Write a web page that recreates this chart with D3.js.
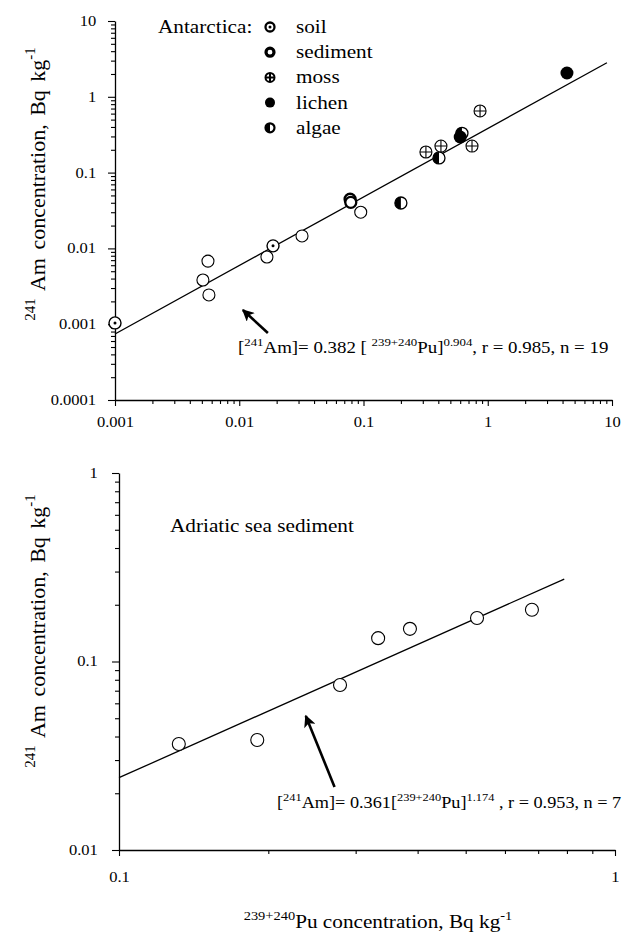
<!DOCTYPE html>
<html>
<head>
<meta charset="utf-8">
<script src="https://cdn.jsdelivr.net/npm/d3@7"></script>
<style>
  body { margin: 0; background: #fff; }
  svg { font-family: "Liberation Serif", "DejaVu Serif", serif; }
</style>
</head>
<body>
<svg id="chart" width="628" height="935"></svg>
<script>
// Antarctica samples: [Pu, Am] in Bq/kg
const soil = [[0.001, 0.00104], [0.0187, 0.0108]];
const openPts = [[0.0051, 0.00383], [0.0056, 0.0068], [0.0057, 0.00243], [0.0167, 0.0077], [0.032, 0.0146], [0.095, 0.030]];
const sediment = [[0.078, 0.0445], [0.079, 0.0405]];
const moss = [[0.318, 0.187], [0.42, 0.224], [0.747, 0.224], [0.867, 0.65]];
const lichen = [[0.60, 0.295], [4.34, 2.06]];
const algae = [[0.2, 0.0397], [0.405, 0.156], [0.62, 0.33]];

// Adriatic sea sediment
const adriatic = [[0.132, 0.0365], [0.19, 0.0383], [0.279, 0.075], [0.333, 0.133], [0.386, 0.149], [0.527, 0.170], [0.68, 0.188]];

// fits: [a, b, xmin, xmax] for Am = a * Pu^b
const fitTop = [0.382, 0.904, 0.001, 9.1];
const fitBottom = [0.361, 1.174, 0.1, 0.79];

const topXTicks = [0.001, 0.01, 0.1, 1, 10];
const topYTicks = [0.0001, 0.001, 0.01, 0.1, 1, 10];
const botXTicks = [0.1, 1];
const botYTicks = [0.01, 0.1, 1];

const legendItems = ["soil", "sediment", "moss", "lichen", "algae"];

// the scan is a bit wider than tall, text gets the same stretch
const SX = 1.18;

const svg = d3.select("#chart");

const defs = svg.append("defs");
defs.append("marker")
  .attr("id", "arrow")
  .attr("viewBox", "0 0 10 10")
  .attr("refX", 9).attr("refY", 5)
  .attr("markerWidth", 14).attr("markerHeight", 12)
  .attr("markerUnits", "userSpaceOnUse")
  .attr("orient", "auto")
  .append("path").attr("d", "M0,0 L10,5 L0,10 L2.5,5 Z").attr("fill", "#000");

function minors(lo, hi) {
  const out = [];
  for (let e = Math.round(Math.log10(lo)); e < Math.round(Math.log10(hi)); e++) {
    for (let k = 2; k <= 9; k++) out.push(k * Math.pow(10, e));
  }
  return out;
}

const fmt = (d) => String(+d.toPrecision(1));

function stxt(parent, x, y, size, sx = SX) {
  return parent.append("g")
    .attr("transform", `translate(${x},${y}) scale(${sx},1)`)
    .append("text").attr("font-size", size).attr("fill", "#000");
}

function drawAxes(g, x, y, xt, yt, xpad, ypad) {
  const xa = g.append("g").attr("transform", `translate(0,${y.range()[0]})`);
  xa.call(d3.axisBottom(x).tickValues(xt).tickSize(6).tickPadding(xpad).tickFormat(fmt).tickSizeOuter(0));
  xa.append("g").call(d3.axisBottom(x).tickValues(minors(...x.domain())).tickSize(4).tickFormat("")).select(".domain").remove();
  const ya = g.append("g").attr("transform", `translate(${x.range()[0]},0)`);
  ya.call(d3.axisLeft(y).tickValues(yt).tickSize(7).tickPadding(ypad).tickFormat(fmt).tickSizeOuter(0));
  ya.append("g").call(d3.axisLeft(y).tickValues(minors(...y.domain())).tickSize(4).tickFormat("")).select(".domain").remove();
  g.selectAll(".domain").attr("stroke-width", 1.3);
  g.selectAll(".tick line").attr("stroke-width", 1.1);
  g.selectAll(".tick text")
    .attr("font-family", "Liberation Serif").attr("font-size", 14).attr("fill", "#000")
    .attr("transform", `scale(${SX},1)`);
}

function fitLine(g, x, y, f) {
  const [a, b, x0, x1] = f;
  const pts = [x0, x1].map((v) => [x(v), y(a * Math.pow(v, b))]);
  g.append("path").attr("d", d3.line()(pts)).attr("fill", "none").attr("stroke", "#000").attr("stroke-width", 1.3);
}

function symbol(g, type, cx, cy, r, sw = 1.1) {
  const s = g.append("g").attr("transform", `translate(${cx},${cy})`);
  if (type === "open") {
    s.append("circle").attr("r", r).attr("fill", "#fff").attr("stroke", "#000").attr("stroke-width", sw);
  } else if (type === "soil") {
    s.append("circle").attr("r", r).attr("fill", "#fff").attr("stroke", "#000").attr("stroke-width", sw + 0.3);
    s.append("circle").attr("r", 1.5).attr("fill", "#000");
  } else if (type === "sediment") {
    s.append("circle").attr("r", r - 0.5).attr("fill", "#fff").attr("stroke", "#000").attr("stroke-width", sw + 1.2);
  } else if (type === "moss") {
    s.append("circle").attr("r", r).attr("fill", "#fff").attr("stroke", "#000").attr("stroke-width", sw);
    s.append("path").attr("d", `M${-r},0H${r}M0,${-r}V${r}`).attr("stroke", "#000").attr("stroke-width", sw);
  } else if (type === "lichen") {
    s.append("circle").attr("r", r + 0.5).attr("fill", "#000");
  } else if (type === "algae") {
    s.append("circle").attr("r", r).attr("fill", "#fff").attr("stroke", "#000").attr("stroke-width", sw + 0.2);
    s.append("path").attr("d", `M0,${-r}A${r},${r} 0 0 0 0,${r}Z`).attr("fill", "#000");
  }
}

function addParts(t, parts, size) {
  const up = size * 0.45;
  let raised = false;
  parts.forEach(([txt, sup]) => {
    const sp = t.append("tspan").text(txt);
    if (sup && !raised) { sp.attr("dy", -up); raised = true; }
    else if (!sup && raised) { sp.attr("dy", up); raised = false; }
    if (sup) sp.attr("font-size", size * 0.68);
  });
}

function arrow(g, x, y, from, to) {
  g.append("line")
    .attr("x1", x(from[0])).attr("y1", y(from[1]))
    .attr("x2", x(to[0])).attr("y2", y(to[1]))
    .attr("stroke", "#000").attr("stroke-width", 2.6)
    .attr("marker-end", "url(#arrow)");
}

// ---- top panel: Antarctica ----
const x1 = d3.scaleLog().domain([0.001, 10]).range([115, 612]);
const y1 = d3.scaleLog().domain([0.0001, 10]).range([400, 21]);
const gTop = svg.append("g");
drawAxes(gTop, x1, y1, topXTicks, topYTicks, 11, 9);
fitLine(gTop, x1, y1, fitTop);

const groups = [["open", openPts], ["soil", soil], ["sediment", sediment], ["algae", algae], ["moss", moss], ["lichen", lichen]];
groups.forEach(([type, pts]) => pts.forEach((p) => symbol(gTop, type, x1(p[0]), y1(p[1]), 6)));

stxt(gTop, 158, 33, 18).text("Antarctica:");
legendItems.forEach((name, i) => {
  const base = 33 + i * 25.2;
  symbol(gTop, name, 270, base - 6, 4.5, 2);
  stxt(gTop, 296, base, 18).text(name);
});

arrow(gTop, x1, y1, [0.017, 0.000766], [0.0107, 0.00154]);
addParts(stxt(gTop, 238, 353, 16),
  [["[", 0], ["241", 1], ["Am]= 0.382  [ ", 0], ["239+240", 1], ["Pu]", 0], ["0.904", 1], [",  r = 0.985, n = 19", 0]], 16);

// ---- bottom panel: Adriatic ----
const x2 = d3.scaleLog().domain([0.1, 1]).range([119, 615]);
const y2 = d3.scaleLog().domain([0.01, 1]).range([850, 473]);
const gBot = svg.append("g");
drawAxes(gBot, x2, y2, botXTicks, botYTicks, 16, 11);
fitLine(gBot, x2, y2, fitBottom);
adriatic.forEach((p) => symbol(gBot, "open", x2(p[0]), y2(p[1]), 6.5));

stxt(gBot, 170, 532, 18).text("Adriatic sea sediment");
arrow(gBot, x2, y2, [0.272, 0.0216], [0.238, 0.0514]);
addParts(stxt(gBot, 277, 808, 16, 1.14),
  [["[", 0], ["241", 1], ["Am]= 0.361[", 0], ["239+240", 1], ["Pu]", 0], ["1.174", 1], [" , r = 0.953, n = 7", 0]], 16);

// ---- axis titles ----
function yTitle(cy) {
  const t = svg.append("g").attr("transform", `translate(45,${cy}) rotate(-90)`)
    .append("text").attr("text-anchor", "middle").attr("font-size", 22).attr("word-spacing", 3);
  addParts(t, [["241", 1], [" Am  concentration, Bq  kg", 0], ["-1", 1]], 22);
}
yTitle(184);
yTitle(631);

const xt = svg.append("g").attr("transform", `translate(378,928) scale(${SX},1)`)
  .append("text").attr("text-anchor", "middle").attr("font-size", 18);
addParts(xt, [["239+240", 1], ["Pu concentration, Bq kg", 0], ["-1", 1]], 18);
</script>
</body>
</html>
